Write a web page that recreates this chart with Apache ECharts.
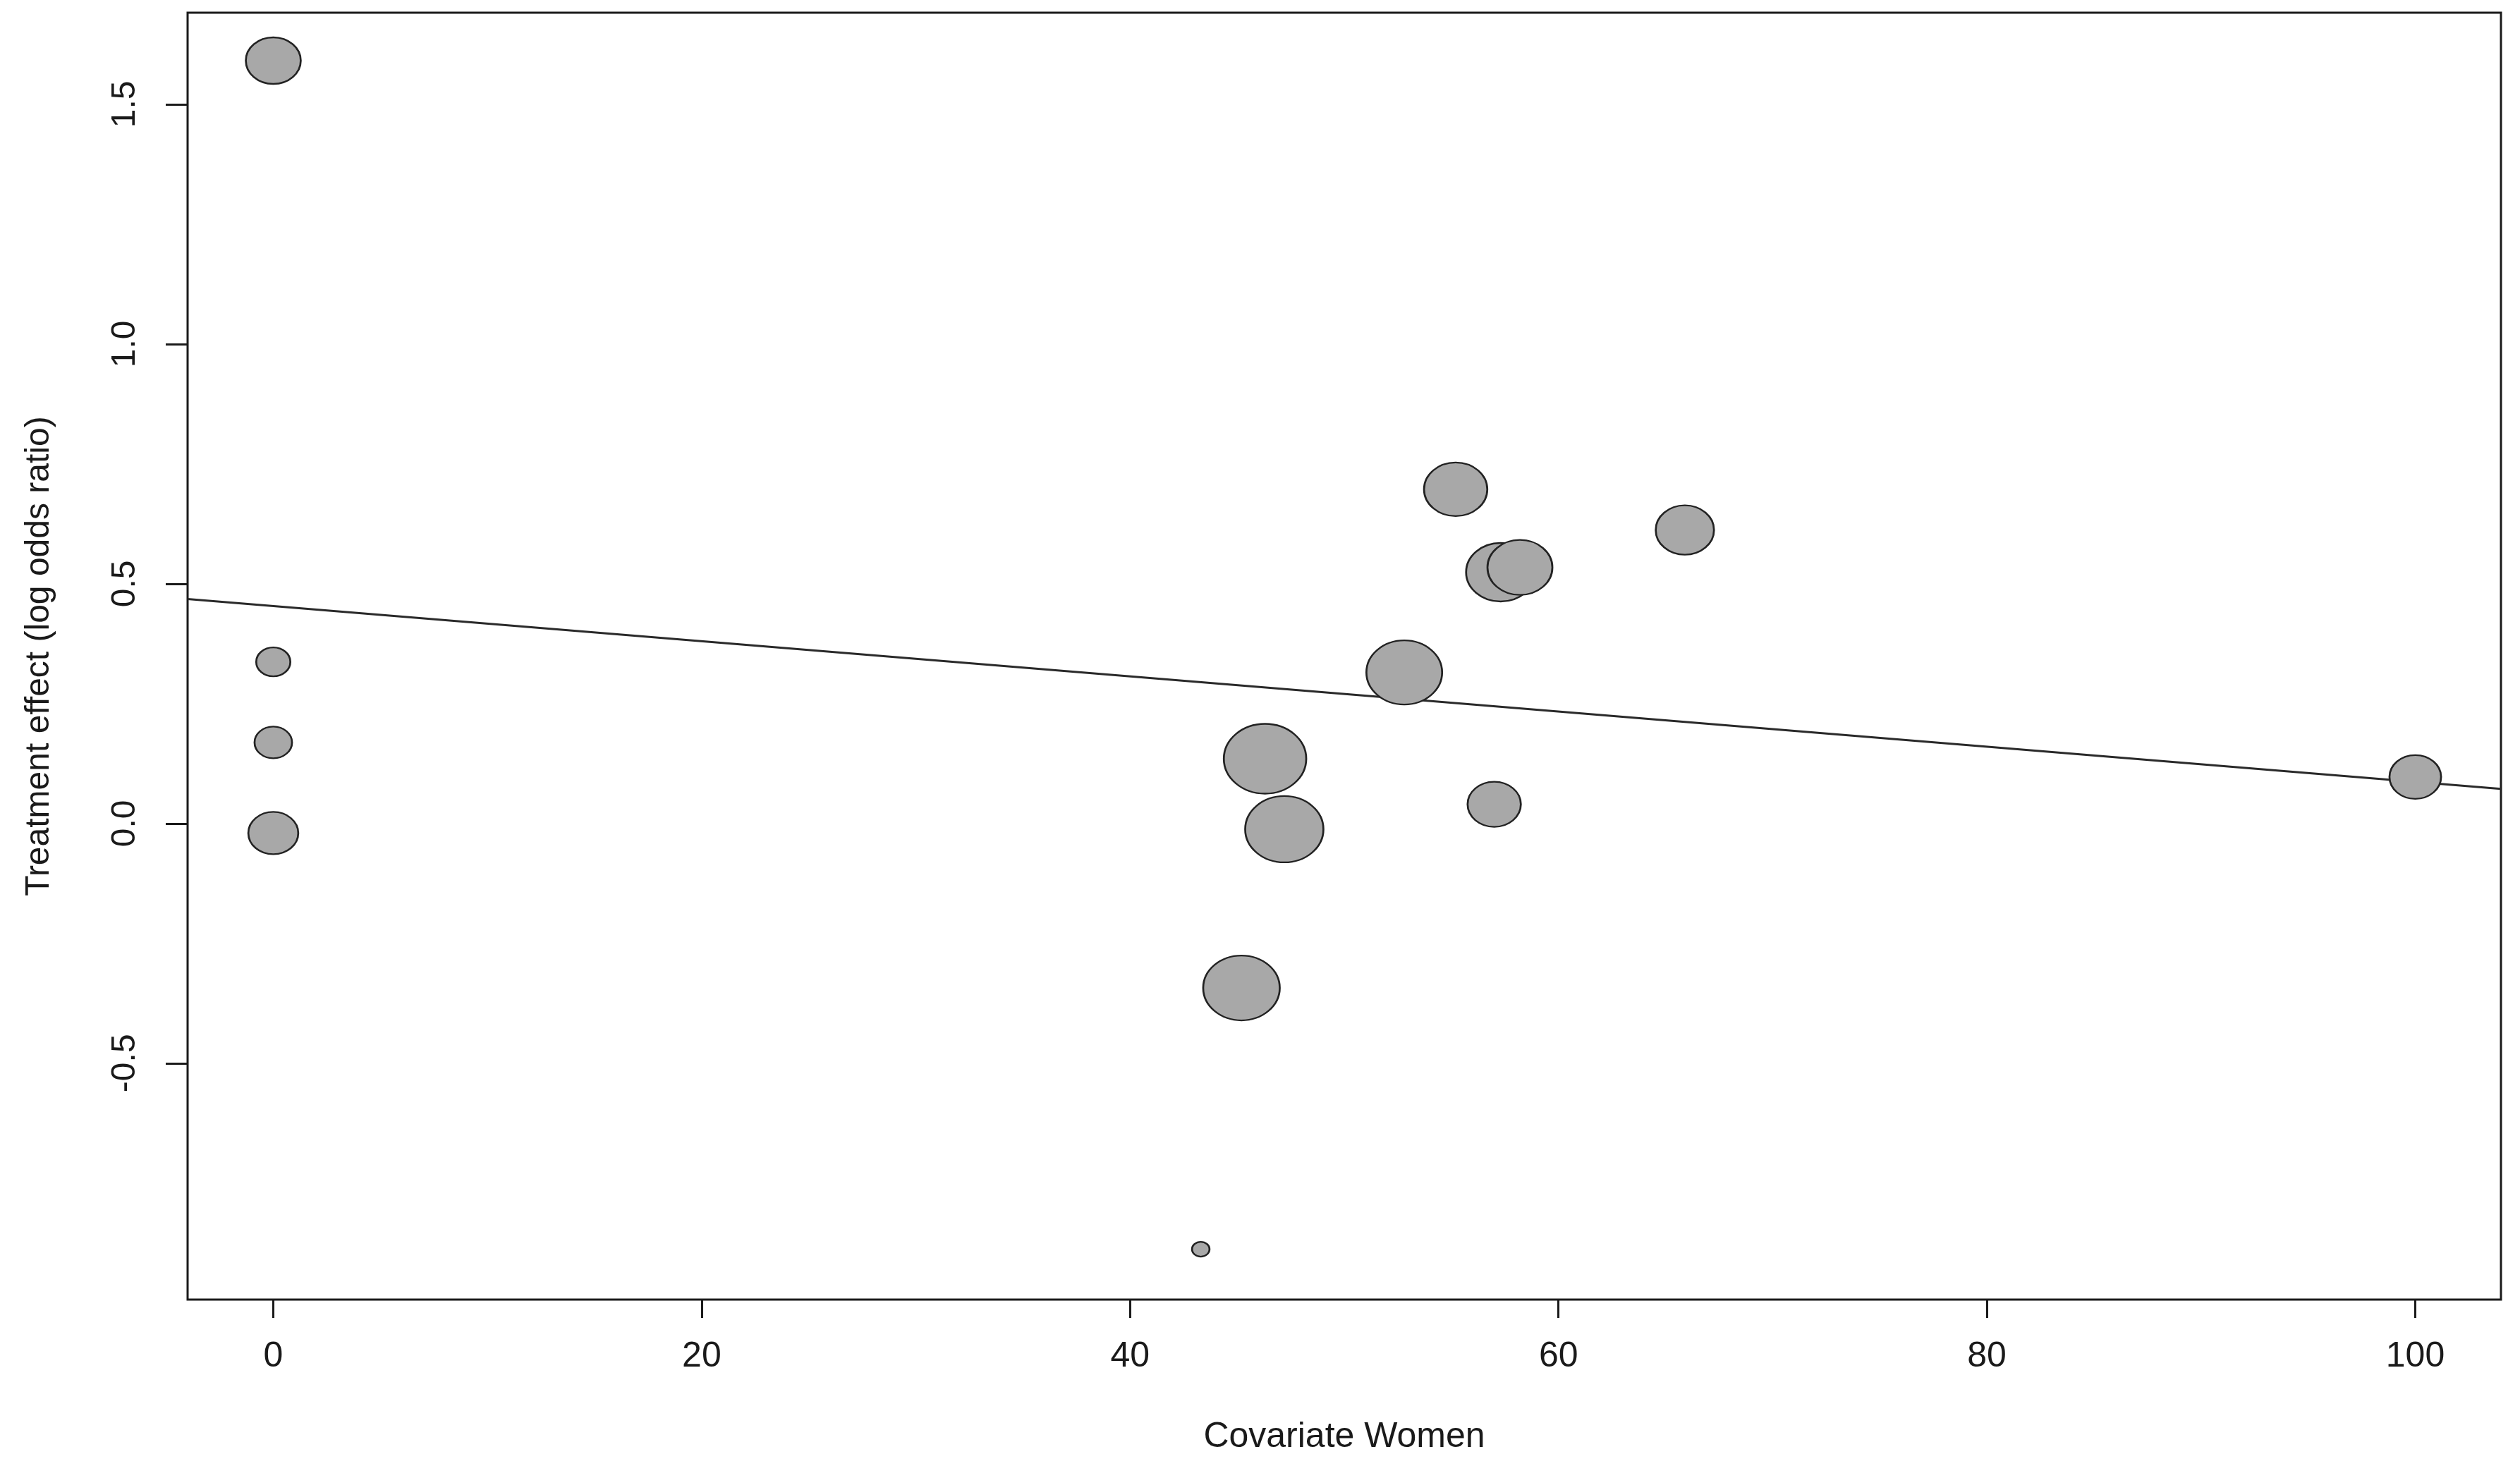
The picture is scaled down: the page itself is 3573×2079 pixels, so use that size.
<!DOCTYPE html>
<html>
<head>
<meta charset="utf-8">
<title>Treatment effect vs Covariate Women</title>
<script src="https://cdn.jsdelivr.net/npm/echarts@6/dist/echarts.min.js"></script>
<style>
	html, body { margin: 0; padding: 0; background: #fff; }
	#main { width: 3573px; height: 2079px; }
</style>
</head>
<body>
<div id="main"></div>
<script>
// studies: covariate (% women), log odds ratio, relative weight
var women = [0, 0, 0, 0, 55.2, 65.9, 57.3, 58.2, 52.8, 46.3, 47.2, 57.0, 45.2, 43.3, 100];
var logOR = [1.591, 0.337, 0.169, -0.020, 0.697, 0.612, 0.524, 0.534, 0.315, 0.135, -0.012, 0.040, -0.343, -0.888, 0.097];
var weight = [0.66, 0.41, 0.45, 0.60, 0.76, 0.70, 0.83, 0.78, 0.91, 0.99, 0.94, 0.64, 0.92, 0.21, 0.62];

// meta-regression fit, drawn edge to edge
var fitX = [-4, 104];
var fitY = [0.468, 0.072];

var xTicks = [0, 20, 40, 60, 80, 100];
var yTicks = [-0.5, 0, 0.5, 1, 1.5];

var font = "'Liberation Sans', Arial, sans-serif";
var ink = '#1a1a1a';

var points = women.map(function(x, i) {
	return [x, logOR[i], weight[i]];
});
var fitLine = fitX.map(function(x, i) {
	return [x, fitY[i]];
});

var chart = echarts.init(document.getElementById('main'), null, { renderer: 'canvas' });

chart.setOption({
	animation: false,
	backgroundColor: '#fff',
	textStyle: { fontFamily: font, color: ink },
	grid: {
		left: 266,
		right: 27,
		top: 18,
		bottom: 236,
		show: true,
		borderColor: ink,
		borderWidth: 3,
		backgroundColor: 'transparent'
	},
	xAxis: {
		type: 'value',
		min: -4,
		max: 104,
		name: 'Covariate Women',
		nameLocation: 'middle',
		nameGap: 170,
		nameTextStyle: { fontFamily: font, fontSize: 50, color: ink },
		axisLine: { show: false, onZero: false },
		axisTick: {
			show: true,
			length: 26,
			customValues: xTicks,
			lineStyle: { color: ink, width: 3 }
		},
		axisLabel: {
			customValues: xTicks,
			fontFamily: font,
			fontSize: 50,
			color: ink,
			margin: 56
		},
		splitLine: { show: false }
	},
	yAxis: {
		type: 'value',
		min: -0.993,
		max: 1.691,
		name: 'Treatment effect (log odds ratio)',
		nameLocation: 'middle',
		nameGap: 186,
		nameTextStyle: { fontFamily: font, fontSize: 48, color: ink },
		axisLine: { show: false, onZero: false },
		axisTick: {
			show: true,
			length: 31,
			customValues: yTicks,
			lineStyle: { color: ink, width: 3 }
		},
		axisLabel: {
			customValues: yTicks,
			rotate: 90,
			fontFamily: font,
			fontSize: 48,
			color: ink,
			margin: 64,
			formatter: function(v) {
				return v.toFixed(1);
			}
		},
		splitLine: { show: false }
	},
	series: [{
		name: 'fit',
		type: 'line',
		data: fitLine,
		symbol: 'none',
		z: 1,
		lineStyle: { color: '#2a2a2a', width: 3 }
	}, {
		name: 'studies',
		type: 'scatter',
		data: points,
		z: 2,
		symbol: 'circle',
		symbolSize: function(val) {
			// plot is stretched sideways, so the bubbles are too
			var h = val[2] * 100;
			return [h * 1.18, h];
		},
		itemStyle: {
			color: '#a8a8a8',
			borderColor: '#222',
			borderWidth: 2.5,
			opacity: 1
		}
	}]
});
</script>
</body>
</html>
